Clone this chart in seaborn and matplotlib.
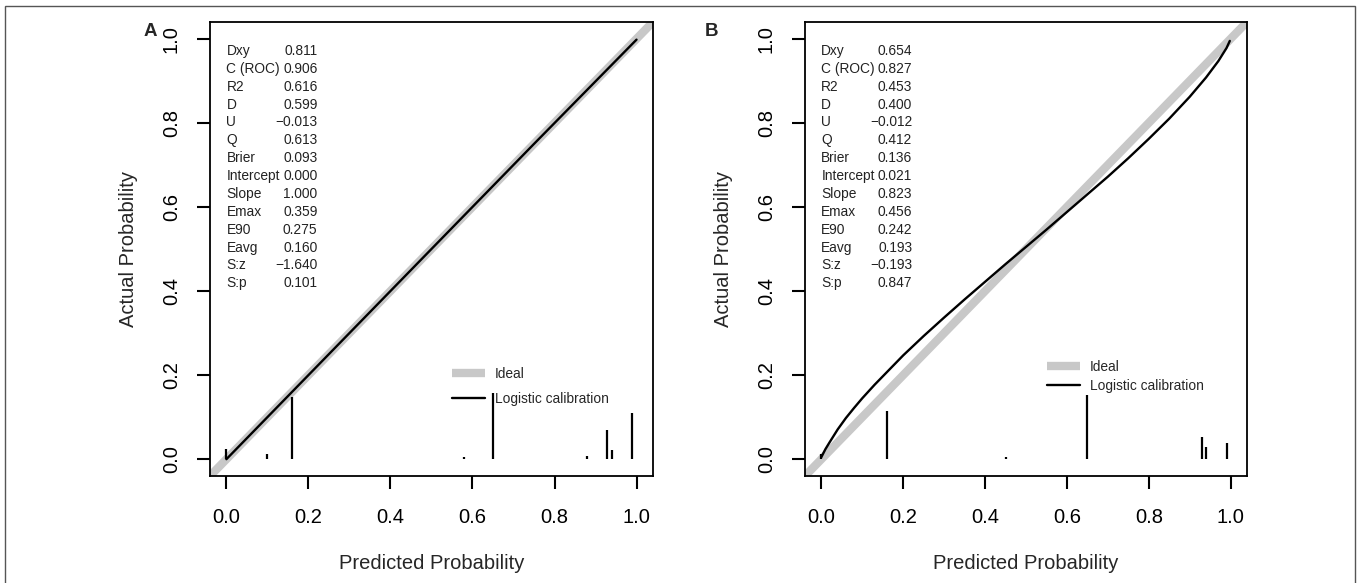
import numpy as np
import pandas as pd
import matplotlib
matplotlib.use("Agg")
import matplotlib.pyplot as plt
from matplotlib.patches import Rectangle
import seaborn as sns

# statistic names shown in the top-left corner of each panel
stat_names = ["Dxy", "C (ROC)", "R2", "D", "U", "Q", "Brier", "Intercept",
              "Slope", "Emax", "E90", "Eavg", "S:z", "S:p"]
stats_a = ["0.811", "0.906", "0.616", "0.599", "\u22120.013", "0.613", "0.093",
           "0.000", "1.000", "0.359", "0.275", "0.160", "\u22121.640", "0.101"]
stats_b = ["0.654", "0.827", "0.453", "0.400", "\u22120.012", "0.412", "0.136",
           "0.021", "0.823", "0.456", "0.242", "0.193", "\u22120.193", "0.847"]

# logistic calibration curves
curve_a_x = [0.0, 0.25, 0.5, 0.75, 1.0]
curve_a_y = [0.0, 0.25, 0.5, 0.75, 0.998]
curve_b_x = [0.0, 0.01, 0.02, 0.04, 0.06, 0.08, 0.10, 0.13, 0.16, 0.20, 0.25,
             0.30, 0.35, 0.40, 0.45, 0.50, 0.55, 0.60, 0.65, 0.70, 0.75, 0.80,
             0.85, 0.90, 0.94, 0.97, 0.99, 0.998]
curve_b_y = [0.005, 0.024, 0.040, 0.071, 0.098, 0.122, 0.145, 0.177, 0.207,
             0.247, 0.293, 0.337, 0.380, 0.422, 0.464, 0.505, 0.546, 0.588,
             0.630, 0.672, 0.716, 0.762, 0.810, 0.862, 0.908, 0.947, 0.978, 0.995]

# spike histogram of predicted probabilities
spikes_a_x = [0.0, 0.098, 0.159, 0.58, 0.65, 0.88, 0.929, 0.94, 0.99]
spikes_a_h = [0.025, 0.012, 0.147, 0.006, 0.157, 0.008, 0.069, 0.022, 0.11]
spikes_b_x = [0.0, 0.161, 0.45, 0.65, 0.929, 0.94, 0.99]
spikes_b_h = [0.012, 0.114, 0.006, 0.152, 0.052, 0.028, 0.038]

ticks = [0.0, 0.2, 0.4, 0.6, 0.8, 1.0]
tick_labels = ["0.0", "0.2", "0.4", "0.6", "0.8", "1.0"]

sns.set_style("white")
plt.rcParams['font.family'] = ['Liberation Sans', 'DejaVu Sans']

fig = plt.figure(figsize=(13.6, 5.83), dpi=100)
ax_a = fig.add_axes([0.1544, 0.1835, 0.3257, 0.7788])
ax_b = fig.add_axes([0.5919, 0.1835, 0.3250, 0.7788])


def draw_panel(ax, cx, cy, sx, sh, stats, tag, tag_x, leg_xy, leg_space):
    ax.axline((0, 0), slope=1, color='#c8c8c8', lw=6, label='Ideal',
              zorder=1, solid_capstyle='butt')
    df = pd.DataFrame({'x': cx, 'y': cy})
    sns.lineplot(data=df, x='x', y='y', color='black', lw=1.7, ax=ax,
                 sort=False, estimator=None, label='Logistic calibration',
                 zorder=3)
    ax.vlines(sx, 0, sh, color='black', lw=1.6, zorder=3)

    ax.set_xlim(-0.04, 1.04)
    ax.set_ylim(-0.04, 1.04)
    ax.set_xticks(ticks)
    ax.set_xticklabels(tick_labels)
    ax.set_yticks(ticks)
    ax.set_yticklabels(tick_labels)
    ax.tick_params(direction='out', length=9.4, width=1.5, pad=13.5,
                   labelsize=14.5, colors='black', bottom=True, left=True)
    ax.tick_params(axis='y', labelrotation=90, pad=11.5)
    for lbl in ax.get_yticklabels():
        lbl.set_va('center')
    for sp in ax.spines.values():
        sp.set_color('black')
        sp.set_linewidth(1.3)

    ax.set_xlabel('Predicted Probability', fontsize=14.5)
    ax.set_ylabel('Actual Probability', fontsize=14.5)
    ax.xaxis.set_label_coords(0.5, -0.172)
    ax.yaxis.set_label_coords(-0.162, 0.5)

    # stats block
    for i, (name, val) in enumerate(zip(stat_names, stats)):
        yy = 0.971 - i * 0.0425
        ax.text(0.0, yy, name, fontsize=9.9, va='center', ha='left', color='#222222')
        ax.text(0.222, yy, val, fontsize=9.9, va='center', ha='right', color='#222222')

    ax.legend(loc='upper left', bbox_to_anchor=leg_xy, frameon=False,
              fontsize=9.9, handlelength=2.4, handletextpad=0.74,
              borderpad=0, borderaxespad=0, labelspacing=leg_space)

    fig.text(tag_x, 1 - 32 / 583, tag, fontsize=13.5, fontweight='bold',
             ha='center', va='center')


draw_panel(ax_a, curve_a_x, curve_a_y, spikes_a_x, spikes_a_h, stats_a, 'A',
           150 / 1360, (0.546, 0.240), 0.78)
draw_panel(ax_b, curve_b_x, curve_b_y, spikes_b_x, spikes_b_h, stats_b, 'B',
           712 / 1360, (0.5475, 0.255), 0.33)

# thin outer frame like the journal figure
fig.patches.append(Rectangle((5 / 1360, -0.05), 1350 / 1360, 1.05 - 6 / 583,
                             transform=fig.transFigure, fill=False,
                             edgecolor='#555555', lw=1))

fig.savefig('out.png', dpi=100)
